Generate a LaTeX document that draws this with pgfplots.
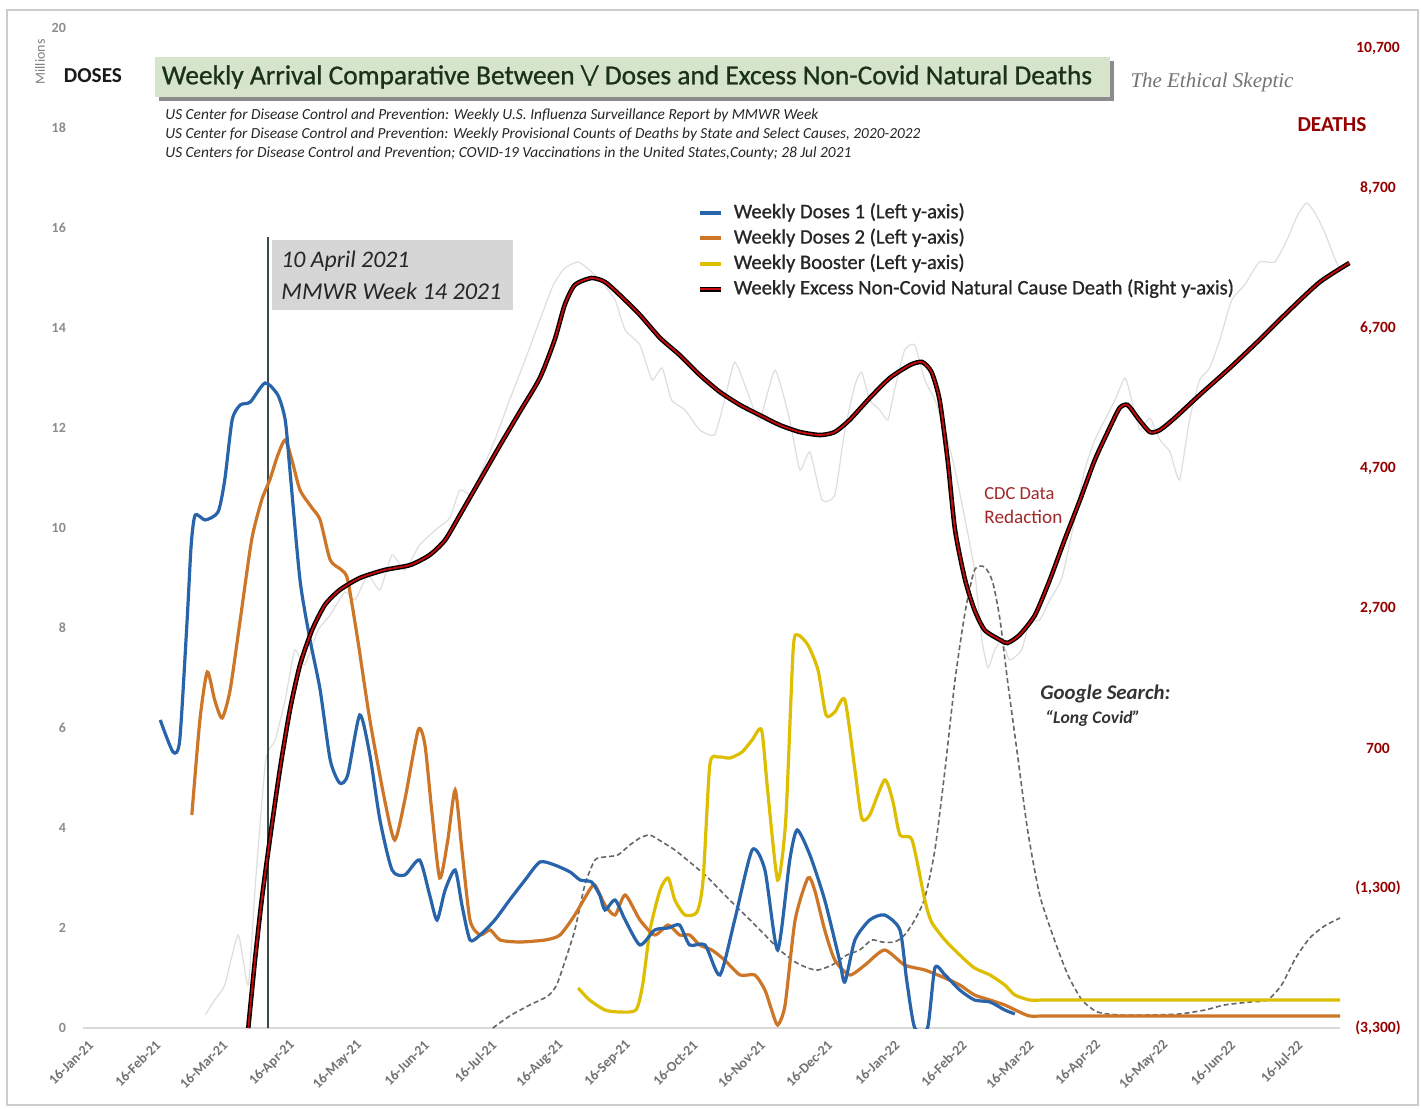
\documentclass[border=0pt]{standalone}
\usepackage{fontspec}
\setmainfont{Carlito}
\newfontfamily\serifit{Liberation Serif}
\newfontfamily\semib{Carlito}[FakeBold=0.8]
\usepackage{graphicx}
\usepackage{pgfplots}
\pgfplotsset{compat=1.18}
\usepackage{pgfplotstable}
\definecolor{cblue}{RGB}{40,100,170}
\definecolor{corange}{RGB}{205,118,40}
\definecolor{cyellow}{RGB}{222,190,0}
\definecolor{cred}{RGB}{200,10,10}
\definecolor{cdred}{RGB}{150,0,0}
\definecolor{cnote}{RGB}{160,40,42}
\definecolor{ctitlebg}{RGB}{214,228,204}
\definecolor{ctitle}{RGB}{25,50,25}
\definecolor{cvline}{RGB}{60,75,72}

% months after 16-Jan-21 ; millions of doses
\pgfplotstableread{
x y
1.15 6.16
1.34 5.52
1.44 5.76
1.55 8.16
1.61 9.66
1.67 10.26
1.82 10.16
2.01 10.32
2.11 10.96
2.22 12.16
2.34 12.46
2.49 12.52
2.71 12.90
2.90 12.66
3.01 12.16
3.08 11.16
3.23 8.96
3.38 7.76
3.53 6.76
3.68 5.36
3.82 4.90
3.94 5.06
4.12 6.26
4.27 5.46
4.42 4.16
4.60 3.16
4.79 3.06
5.01 3.36
5.16 2.66
5.27 2.16
5.39 2.76
5.54 3.16
5.64 2.46
5.76 1.76
5.91 1.86
6.13 2.16
6.35 2.56
6.58 2.96
6.80 3.32
7.02 3.26
7.25 3.12
7.40 2.96
7.57 2.92
7.69 2.66
7.77 2.36
7.92 2.56
8.07 2.16
8.29 1.66
8.51 1.96
8.71 2.00
8.88 2.06
9.03 1.66
9.26 1.66
9.48 1.06
9.70 2.16
9.96 3.56
10.15 3.16
10.34 1.56
10.52 3.36
10.63 3.96
10.82 3.46
11.04 2.56
11.26 1.36
11.34 0.92
11.49 1.76
11.71 2.16
11.93 2.26
12.16 1.96
12.26 0.96
12.38 0.00
12.57 0.00
12.68 1.20
12.83 1.06
13.05 0.76
13.27 0.56
13.50 0.52
13.72 0.36
13.87 0.28
}\tblue

\pgfplotstableread{
x y
1.62 4.26
1.74 6.16
1.85 7.12
1.96 6.56
2.07 6.20
2.19 6.76
2.34 8.16
2.51 9.76
2.66 10.56
2.78 10.96
2.90 11.46
3.01 11.76
3.11 11.36
3.23 10.76
3.41 10.40
3.53 10.16
3.68 9.36
3.85 9.16
3.94 8.96
4.09 7.76
4.27 6.16
4.49 4.56
4.64 3.76
4.79 4.56
4.99 5.96
5.09 5.66
5.19 4.36
5.31 3.00
5.43 3.76
5.54 4.76
5.64 3.56
5.76 2.16
5.91 1.86
6.06 1.96
6.21 1.76
6.50 1.72
6.88 1.76
7.10 1.86
7.32 2.26
7.54 2.76
7.62 2.86
7.77 2.46
7.92 2.26
8.07 2.66
8.29 2.16
8.51 1.86
8.71 2.06
8.88 1.86
9.03 1.86
9.18 1.66
9.36 1.56
9.55 1.36
9.78 1.06
10.00 1.06
10.15 0.76
10.25 0.36
10.34 0.06
10.45 0.46
10.60 2.16
10.79 3.00
10.89 2.76
11.04 1.96
11.19 1.36
11.41 1.06
11.64 1.26
11.93 1.56
12.23 1.26
12.53 1.16
12.83 1.00
13.05 0.86
13.27 0.66
13.50 0.56
13.72 0.46
13.94 0.32
14.09 0.24
14.30 0.24
14.60 0.24
18.71 0.24
}\torange

\pgfplotstableread{
x y
7.37 0.80
7.54 0.56
7.77 0.36
7.99 0.32
8.23 0.36
8.33 0.86
8.44 1.96
8.59 2.76
8.71 3.00
8.81 2.56
8.96 2.26
9.14 2.32
9.23 2.96
9.33 5.26
9.45 5.42
9.63 5.40
9.81 5.52
9.96 5.76
10.10 5.96
10.19 4.76
10.34 2.96
10.46 4.16
10.57 7.56
10.64 7.86
10.79 7.66
10.94 7.16
11.06 6.26
11.19 6.32
11.34 6.56
11.49 5.16
11.59 4.20
11.71 4.26
11.93 4.96
12.05 4.56
12.16 3.86
12.34 3.76
12.53 2.56
12.63 2.12
12.83 1.76
13.05 1.46
13.27 1.20
13.50 1.06
13.72 0.86
13.87 0.66
14.09 0.56
14.30 0.56
14.60 0.56
18.71 0.56
}\tyellow

% Google search "Long Covid" (relative, drawn on left scale)
\pgfplotstableread{
x y
6.10 0.00
6.35 0.24
6.65 0.46
6.92 0.64
7.05 0.86
7.17 1.32
7.32 1.96
7.47 2.86
7.62 3.36
7.77 3.42
7.96 3.46
8.14 3.66
8.29 3.80
8.44 3.86
8.62 3.72
8.81 3.56
9.03 3.32
9.26 3.06
9.48 2.76
9.70 2.46
9.93 2.16
10.15 1.86
10.37 1.56
10.60 1.32
10.79 1.20
10.94 1.16
11.15 1.26
11.37 1.46
11.56 1.56
11.74 1.76
11.89 1.72
12.08 1.72
12.23 1.86
12.38 2.16
12.53 2.60
12.68 3.56
12.83 5.16
12.98 6.96
13.13 8.32
13.27 9.16
13.42 9.22
13.54 8.92
13.65 8.16
13.76 6.96
13.91 5.46
14.06 3.96
14.24 2.66
14.46 1.76
14.66 1.06
14.87 0.56
15.10 0.32
15.43 0.26
15.88 0.26
16.32 0.28
16.70 0.36
16.99 0.46
17.37 0.52
17.63 0.56
17.84 0.86
18.05 1.40
18.26 1.80
18.48 2.04
18.71 2.20
}\tdash

% weekly excess deaths, smoothed (right axis)
\pgfplotstableread{
x y
2.46 -3300
2.56 -2329
2.66 -1471
2.78 -614
2.93 386
3.08 1243
3.23 1886
3.41 2386
3.60 2743
3.82 2957
4.12 3129
4.49 3243
4.87 3314
5.16 3457
5.39 3671
5.61 4029
5.91 4529
6.21 5029
6.50 5500
6.80 5986
7.02 6529
7.17 7029
7.32 7314
7.57 7414
7.77 7357
7.99 7171
8.29 6886
8.59 6557
8.88 6314
9.18 6029
9.48 5786
9.78 5600
10.07 5457
10.37 5314
10.67 5214
10.97 5171
11.19 5214
11.41 5386
11.71 5700
12.01 5986
12.31 6171
12.49 6214
12.63 6071
12.75 5671
12.87 4814
12.98 3814
13.13 3100
13.27 2671
13.42 2386
13.65 2243
13.76 2200
13.94 2314
14.17 2600
14.39 3100
14.61 3671
14.84 4243
15.06 4814
15.28 5271
15.43 5557
15.55 5600
15.70 5414
15.88 5214
16.03 5243
16.25 5414
16.62 5743
17.07 6129
17.51 6529
17.96 6957
18.41 7357
18.85 7629
}\tred

% weekly excess deaths, raw (right axis)
\pgfplotstableread{
x y
1.82 -3114
1.96 -2900
2.11 -2686
2.31 -1971
2.46 -2686
2.57 -1186
2.72 529
2.86 814
3.01 1386
3.15 2100
3.30 1886
3.50 2386
3.68 2600
3.90 2929
4.05 2814
4.24 3171
4.42 2957
4.60 3457
4.79 3243
5.01 3600
5.28 3843
5.46 3986
5.61 4386
5.79 4314
5.94 4671
6.13 5100
6.35 5671
6.58 6243
6.80 6814
7.00 7314
7.17 7557
7.37 7643
7.54 7529
7.72 7357
7.92 7100
8.07 6671
8.29 6457
8.47 5957
8.62 6129
8.76 5671
8.96 5529
9.18 5243
9.40 5171
9.55 5671
9.70 6214
9.88 5814
10.07 5386
10.30 6100
10.52 5386
10.67 4671
10.82 4929
11.00 4243
11.19 4314
11.34 5243
11.49 5886
11.59 6071
11.71 5671
11.86 5529
11.98 5386
12.08 5814
12.23 6386
12.38 6457
12.53 5957
12.68 5671
12.83 5243
12.98 4671
13.13 3957
13.27 3243
13.38 2243
13.47 1843
13.57 2100
13.68 2243
13.79 1957
13.97 2100
14.09 2500
14.24 2529
14.39 2814
14.57 3129
14.76 3957
14.91 4671
15.06 5100
15.21 5386
15.36 5671
15.51 5986
15.61 5671
15.73 5243
15.88 5414
16.03 5100
16.18 4929
16.32 4529
16.47 5386
16.62 5957
16.77 6129
16.92 6529
17.10 7100
17.29 7314
17.51 7643
17.74 7643
17.92 7957
18.08 8314
18.21 8486
18.33 8357
18.48 8071
18.63 7700
18.71 7529
}\tgray

\pgfplotsset{
  common/.style={at={(0,0)}, anchor=south west, scale only axis,
    width=628.5pt, height=500pt, xmin=0, xmax=18.71,
    scaled x ticks=false, scaled y ticks=false},
}

\begin{document}
\begin{tikzpicture}
\begin{scope}[xshift=-41.5pt,yshift=514pt,x=0.5pt,y=-0.5pt]
\path[use as bounding box, fill=white] (0,0) rectangle (1421,1109);
\draw[black!20, line width=0.8pt] (7,10) rectangle (1418,1105);
\end{scope}

% right axis: ticks and raw deaths
\begin{axis}[common,
  ymin=-3300, ymax=10985.7,
  hide x axis, axis y line*=right, y axis line style={draw=none},
  major tick length=0pt,
  ytick={-3300,-1300,700,2700,4700,6700,8700,10700},
  yticklabels={{(3,300)},{(1,300)},{700},{2,700},{4,700},{6,700},{8,700},{10,700}},
  yticklabel style={font=\bfseries\fontsize{7.8}{9}\selectfont, text=cdred, anchor=center, xshift=19pt},
]
\addplot[black!13, line width=0.6pt, smooth, tension=0.3] table {\tgray};
\end{axis}

% left axis: doses
\begin{axis}[common,
  ymin=0, ymax=20,
  axis x line=bottom, axis y line=left, axis line style={-},
  y axis line style={draw=none}, x axis line style={draw=black!15, line width=0.8pt},
  major tick length=0pt,
  xtick={0,...,18},
  xticklabels={16-Jan-21,16-Feb-21,16-Mar-21,16-Apr-21,16-May-21,16-Jun-21,16-Jul-21,16-Aug-21,16-Sep-21,16-Oct-21,16-Nov-21,16-Dec-21,16-Jan-22,16-Feb-22,16-Mar-22,16-Apr-22,16-May-22,16-Jun-22,16-Jul-22},
  x tick label style={rotate=45, anchor=east, font=\bfseries\fontsize{7}{8}\selectfont, text=black!55, yshift=-8pt, xshift=1pt},
  ytick={0,2,...,20},
  y tick label style={font=\bfseries\fontsize{7}{8}\selectfont, text=black!45, xshift=-5pt},
  /pgf/number format/assume math mode=true,
]
\draw[cvline, line width=1.1pt] (axis cs:2.75,0) -- (axis cs:2.75,15.82);
\addplot[black!60, line width=0.8pt, dash pattern=on 2.5pt off 1.5pt, smooth, tension=0.4] table {\tdash};
\addplot[cyellow, line width=1.6pt, smooth, tension=0.4] table {\tyellow};
\addplot[corange, line width=1.6pt, smooth, tension=0.4] table {\torange};
\addplot[cblue, line width=1.6pt, smooth, tension=0.4] table {\tblue};
\end{axis}

% right axis: smoothed deaths + legend
\begin{axis}[common,
  ymin=-3300, ymax=10985.7, hide axis, clip=false,
  legend style={at={(axis description cs:0.4885,0.828)}, anchor=north west, draw=none, fill=none,
    inner sep=0pt, row sep=0pt, font=\semib\fontsize{10.3}{12}\selectfont,
    nodes={text height=7.5pt, text depth=2.4pt, inner sep=1.4pt, text=black!85}},
  legend cell align=left,
]
\addlegendimage{legend image code/.code={\path[draw=none] (0pt,0pt) -- (15.5pt,0pt); \draw[cblue, line width=2pt] (0pt,0pt) -- (10.5pt,0pt);}}
\addlegendentry{Weekly Doses 1 (Left y-axis)}
\addlegendimage{legend image code/.code={\path[draw=none] (0pt,0pt) -- (15.5pt,0pt); \draw[corange, line width=2pt] (0pt,0pt) -- (10.5pt,0pt);}}
\addlegendentry{Weekly Doses 2 (Left y-axis)}
\addlegendimage{legend image code/.code={\path[draw=none] (0pt,0pt) -- (15.5pt,0pt); \draw[cyellow, line width=2pt] (0pt,0pt) -- (10.5pt,0pt);}}
\addlegendentry{Weekly Booster (Left y-axis)}
\addplot[black, line width=2.3pt, smooth, tension=0.4, forget plot] table {\tred};
\addplot[cred, line width=0.9pt, smooth, tension=0.4,
  legend image code/.code={\path[draw=none] (0pt,0pt) -- (15.5pt,0pt); \draw[black, line width=2.6pt] (0pt,0pt) -- (10.5pt,0pt); \draw[cred, line width=1pt] (0pt,0pt) -- (10.5pt,0pt);}] table {\tred};
\addlegendentry{Weekly Excess Non-Covid Natural Cause Death (Right y-axis)}
\end{axis}

\begin{scope}[xshift=-41.5pt,yshift=514pt,x=0.5pt,y=-0.5pt]
% title box
\fill[black!45] (159,61) rectangle (1114,101);
\fill[ctitlebg] (155,57) rectangle (1110,97);
\node[text=ctitle, inner sep=0pt] at (627,77) {\resizebox{465pt}{!}{\semib Weekly Arrival Comparative Between \textbackslash\kern-0.12em/ Doses and Excess Non-Covid Natural Deaths}};
% sources
\node[anchor=west, inner sep=0pt, text=black!85] at (165,115) {\resizebox{326.5pt}{!}{\itshape US Center for Disease Control and Prevention: Weekly U.S. Influenza Surveillance Report by MMWR Week}};
\node[anchor=west, inner sep=0pt, text=black!85] at (165,134) {\resizebox{377.5pt}{!}{\itshape US Center for Disease Control and Prevention: Weekly Provisional Counts of Deaths by State and Select Causes, 2020-2022}};
\node[anchor=west, inner sep=0pt, text=black!85] at (165,153) {\resizebox{343pt}{!}{\itshape US Centers for Disease Control and Prevention; COVID-19 Vaccinations in the United States,County; 28 Jul 2021}};
% brand
\node[inner sep=0pt, text=black!55] at (1212,82) {\resizebox{81.5pt}{!}{\serifit\itshape The Ethical Skeptic}};
% axis headings
\node[inner sep=0pt, text=black!90] at (93,76) {\resizebox{29pt}{!}{\bfseries DOSES}};
\node[inner sep=0pt, text=black!50, rotate=90, font=\fontsize{7}{8}\selectfont] at (40,62) {Millions};
\node[inner sep=0pt, text=cdred] at (1332,125) {\resizebox{34.5pt}{!}{\bfseries DEATHS}};
% date annotation
\fill[black!16] (272,240) rectangle (513,310);
\node[anchor=west, inner sep=0pt, text=black!85] at (281,261) {\resizebox{64pt}{!}{\itshape 10 April 2021}};
\node[anchor=west, inner sep=0pt, text=black!85] at (281,291) {\resizebox{110pt}{!}{\itshape MMWR Week 14 2021}};
% notes
\node[anchor=west, inner sep=0pt, text=cnote] at (984,494) {\resizebox{35pt}{!}{CDC Data}};
\node[anchor=west, inner sep=0pt, text=cnote] at (984,517) {\resizebox{39pt}{!}{Redaction}};
\node[anchor=west, inner sep=0pt, text=black!80] at (1040,694) {\resizebox{65pt}{!}{\bfseries\itshape Google Search:}};
\node[anchor=west, inner sep=0pt, text=black!80] at (1045,718) {\resizebox{47.5pt}{!}{\bfseries\itshape “Long Covid”}};
\end{scope}
\end{tikzpicture}
\end{document}
